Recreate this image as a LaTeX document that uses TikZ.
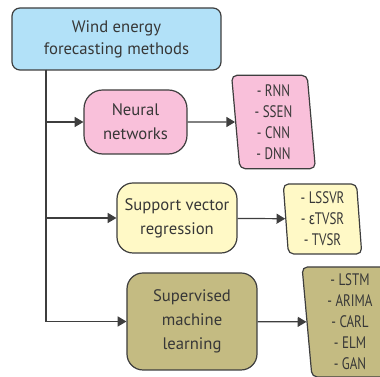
\documentclass[tikz,border=0pt]{standalone}
\usepackage{fontspec}
\setmainfont{PT Sans}
\newfontfamily\narrowfont[FakeStretch=0.78]{PT Sans}
\newfontfamily\greeknarrow[FakeStretch=0.78]{Fira Sans}
\usepackage{tikz}
\usetikzlibrary{shapes.geometric,arrows.meta,positioning}
\definecolor{boxblue}{RGB}{178,225,248}
\definecolor{nnpink}{RGB}{249,192,218}
\definecolor{svryellow}{RGB}{255,249,198}
\definecolor{smlolive}{RGB}{196,187,130}
\definecolor{linegray}{RGB}{62,62,62}
\definecolor{textgray}{RGB}{55,55,55}

\begin{document}
\begin{tikzpicture}[x=0.75pt,y=-0.75pt,
    method/.style={draw=linegray,line width=0.9pt,rounded corners=12pt,align=center,
      text=textgray,inner sep=0pt,font=\fontsize{12.5}{18}\selectfont},
    models/.style={trapezium,trapezium stretches=true,trapezium left angle=93.5,trapezium right angle=86.5,
      draw=linegray,line width=0.9pt,rounded corners=4pt,align=center,inner sep=0pt,
      text=textgray,font=\narrowfont\fontsize{12.5}{15.75}\selectfont},
    link/.style={-{Triangle[length=6.5pt,width=7.5pt]},line width=0.9pt,draw=linegray}]
        \useasboundingbox (0,0) rectangle (380,377);
        \clip (0,0) rectangle (380,377);
        %Methods
        \node[method,fill=boxblue,rounded corners=6pt,minimum width=156.75pt,minimum height=46.5pt,
          font=\fontsize{12.5}{16.5}\selectfont] (methods) at (116.5,39) {Wind energy\\forecasting methods};
        \node[method,fill=nnpink,rounded corners=14pt,minimum width=77.25pt,minimum height=48pt] (nn) at (135.5,122) {Neural\\networks};
        \node[method,fill=svryellow,minimum width=90pt,minimum height=52.5pt] (svr) at (177,218) {Support vector\\regression};
        \node[method,fill=smlolive,minimum width=97.5pt,minimum height=72.75pt] (sml) at (192,321.5) {Supervised\\machine\\learning};
        %Models
        \node[models,fill=nnpink,minimum width=63pt,minimum height=70pt] (nnlist) at (273.5,122) {- RNN\\- SSEN\\- CNN\\- DNN};
        \node[models,fill=svryellow,minimum width=59pt,minimum height=52.5pt] (svrlist) at (322.5,219) {- LSSVR\\- {\greeknarrow ε}TVSR\\- TVSR};
        \node[models,fill=smlolive,minimum width=72pt,minimum height=82.5pt] (smllist) at (350,322) {- LSTM\\- ARIMA\\- CARL\\- ELM\\- GAN};
        %Links
        \coordinate (trunk) at (46,70);
        \draw[link] (trunk) |- (nn.west);
        \draw[link] (trunk) |- (svr.west);
        \draw[link] (trunk) |- (sml.west);
        \draw[link] (nn) -- (nnlist);
        \draw[link] (svr) -- (svrlist);
        \draw[link] (sml) -- (smllist);
\end{tikzpicture}
\end{document}
